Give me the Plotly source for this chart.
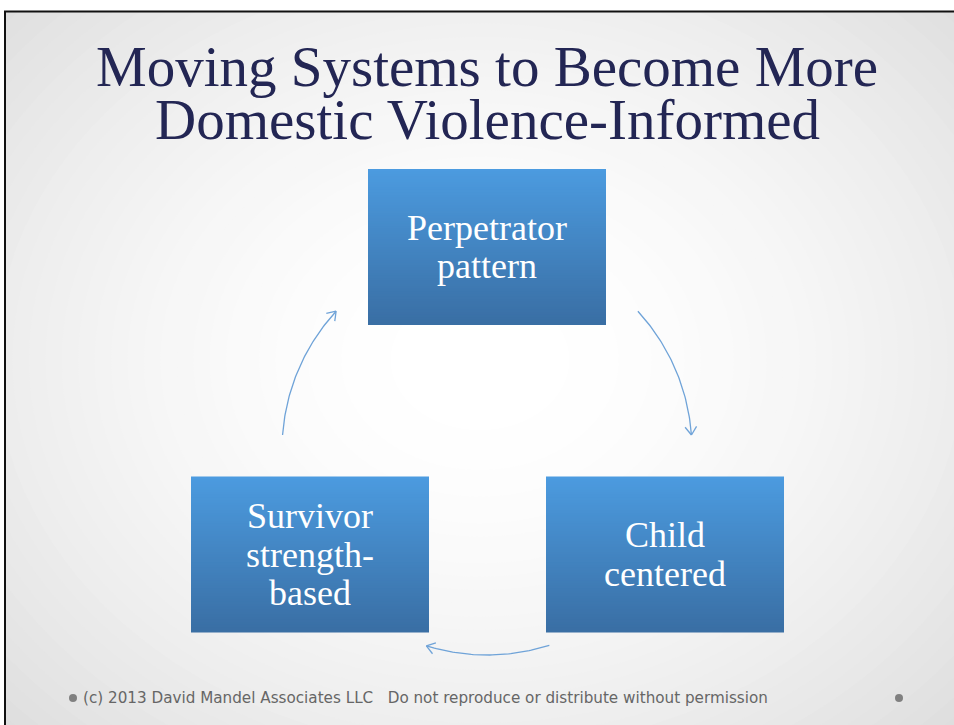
import math
import plotly.graph_objects as go

# ---- content ----
title_lines = ["Moving Systems to Become More", "Domestic Violence-Informed"]
node_labels = [["Perpetrator", "pattern"], ["Child", "centered"], ["Survivor", "strength-", "based"]]
footer_text = "(c) 2013 David Mandel Associates LLC   Do not reproduce or distribute without permission"

# ---- layout constants (pixels) ----
W, H = 954, 725
box_w, box_h = 238, 156
box_centers = [(487, 247), (665, 554.5), (310, 554.5)]
cycle_c = (487, 450)
cycle_r = 205
arc_spans = [(-42.6, -4.2), (72.3, 107.2), (184.2, 222.6)]
arrow_col = "#6fa3d8"
line_gap = 38.5

shapes = []
# radial background gradient (white centre, grey corners)
n = 45
for i in range(n):
    t = 1 - i / n
    g = int(round(255 - 44 * t ** 1.7))
    rx, ry = 740 * t + 40, 600 * t + 30
    cx, cy = 480, 360
    shapes.append(dict(type="circle", xref="x", yref="y", x0=cx - rx, x1=cx + rx,
                       y0=cy - ry, y1=cy + ry, fillcolor=f"rgb({g},{g},{g})",
                       line=dict(width=0), layer="below"))
# white band above / left of the slide
shapes.append(dict(type="rect", xref="x", yref="y", x0=-10, x1=W + 10, y0=-10, y1=11,
                   fillcolor="white", line=dict(width=0), layer="below"))
shapes.append(dict(type="rect", xref="x", yref="y", x0=-10, x1=5, y0=-10, y1=H + 10,
                   fillcolor="white", line=dict(width=0), layer="below"))
# slide border
shapes.append(dict(type="rect", xref="x", yref="y", x0=5, x1=W + 20, y0=11.5, y1=H + 20,
                   fillcolor="rgba(0,0,0,0)", line=dict(color="#111111", width=2)))

# gradient boxes
top_rgb = (76, 155, 224)
bot_rgb = (58, 111, 164)
bands = 60
for (cx, cy) in box_centers:
    x0, x1 = cx - box_w / 2, cx + box_w / 2
    y0 = cy - box_h / 2
    for k in range(bands):
        f = k / (bands - 1)
        r = int(top_rgb[0] + (bot_rgb[0] - top_rgb[0]) * f)
        g = int(top_rgb[1] + (bot_rgb[1] - top_rgb[1]) * f)
        b = int(top_rgb[2] + (bot_rgb[2] - top_rgb[2]) * f)
        y_top = y0 + box_h * k / bands
        y_bot = min(y0 + box_h * (k + 1) / bands + 1.0, y0 + box_h)
        shapes.append(dict(type="rect", xref="x", yref="y", x0=x0, x1=x1,
                           y0=y_top, y1=y_bot,
                           fillcolor=f"rgb({r},{g},{b})", line=dict(width=0)))

fig = go.Figure()

# arcs with open arrowheads
for (a0, a1) in arc_spans:
    ts = [a0 + (a1 - a0) * i / 60 for i in range(61)]
    xs = [cycle_c[0] + cycle_r * math.cos(math.radians(t)) for t in ts]
    ys = [cycle_c[1] + cycle_r * math.sin(math.radians(t)) for t in ts]
    fig.add_trace(go.Scatter(x=xs, y=ys, mode="lines", line=dict(color=arrow_col, width=1.3),
                             hoverinfo="skip", showlegend=False))
    te = math.radians(a1)
    ex, ey = xs[-1], ys[-1]
    dx, dy = -math.sin(te), math.cos(te)  # tangent direction (clockwise)
    L = 10
    hx, hy = [], []
    for s in (1, -1):
        ang = math.atan2(dy, dx) + math.pi + s * math.radians(35)
        hx += [ex + L * math.cos(ang), ex, None]
        hy += [ey + L * math.sin(ang), ey, None]
    fig.add_trace(go.Scatter(x=hx, y=hy, mode="lines", line=dict(color=arrow_col, width=1.3),
                             hoverinfo="skip", showlegend=False))

annotations = []
annotations.append(dict(x=487, y=66, xref="x", yref="y", text=title_lines[0], showarrow=False,
                        borderpad=0, font=dict(family="Liberation Serif", size=57, color="#232654")))
annotations.append(dict(x=487, y=119, xref="x", yref="y", text=title_lines[1], showarrow=False,
                        borderpad=0, font=dict(family="Liberation Serif", size=57, color="#232654")))
for (cx, cy), lines in zip(box_centers, node_labels):
    nl = len(lines)
    for j, ln in enumerate(lines):
        yy = cy + (j - (nl - 1) / 2) * line_gap
        annotations.append(dict(x=cx, y=yy, xref="x", yref="y", text=ln, showarrow=False,
                                borderpad=0,
                                font=dict(family="Liberation Serif", size=36, color="white")))
annotations.append(dict(x=81, y=698, xref="x", yref="y", text=footer_text, showarrow=False,
                        xanchor="left", font=dict(family="DejaVu Sans", size=15.2, color="#666666")))

# bullets
fig.add_trace(go.Scatter(x=[73, 899], y=[698, 698], mode="markers",
                         marker=dict(color="#808080", size=8), hoverinfo="skip", showlegend=False))

fig.update_layout(
    width=W, height=H, margin=dict(l=0, r=0, t=0, b=0),
    paper_bgcolor="white", plot_bgcolor="white",
    xaxis=dict(range=[0, W], visible=False, fixedrange=True),
    yaxis=dict(range=[H, 0], visible=False, fixedrange=True),
    shapes=shapes, annotations=annotations,
)
fig.write_html("out.html", config={"displayModeBar": False},
               post_script="document.body.style.margin='0';document.body.style.overflow='hidden';")
